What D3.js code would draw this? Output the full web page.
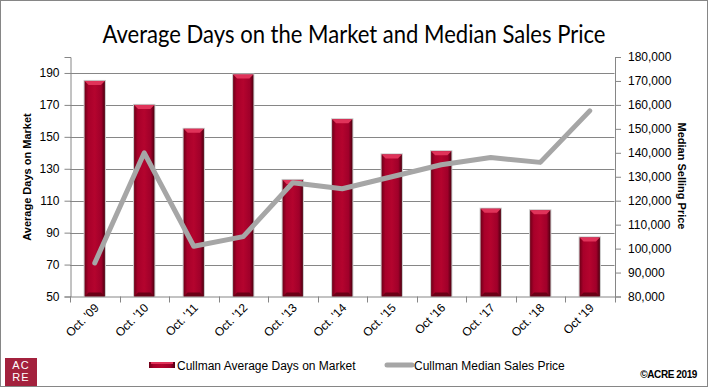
<!DOCTYPE html>
<html>
<head>
<meta charset="utf-8">
<script src="https://cdn.jsdelivr.net/npm/d3@7/dist/d3.min.js"></script>
<style>
  body { margin: 0; background: #fff; }
  svg text { font-family: "Liberation Sans", Arial, sans-serif; }
</style>
</head>
<body>
<svg id="chart" width="708" height="387"></svg>
<script>
// data
const categories = ["Oct. '09", "Oct. '10", "Oct. '11", "Oct. '12", "Oct. '13", "Oct. '14",
  "Oct. '15", "Oct '16", "Oct. '17", "Oct. '18", "Oct '19"]
const daysOnMarket = [185, 170, 155, 189, 123, 161, 139, 141, 105, 104, 87]
const medianPrice = [94000, 140000, 101000, 105000, 127500, 125000, 130000, 135000, 138000, 136000, 157500]
const leftTicks = [50, 70, 90, 110, 130, 150, 170, 190]
const rightTicks = [80000, 90000, 100000, 110000, 120000, 130000, 140000, 150000, 160000, 170000, 180000]

const svg = d3.select('#chart')
const W = 708, H = 387
const plotLeft = 70, plotRight = 614.5, plotTop = 57, plotBottom = 296.5
const grey = '#868686'

// outer frame
svg.append('rect').attr('x', 0.5).attr('y', 0.5).attr('width', W - 1).attr('height', H - 1)
  .attr('fill', '#fff').attr('stroke', grey)

let defs = svg.append('defs')
let grad = defs.append('linearGradient').attr('id', 'barGrad')
  .attr('x1', 0).attr('x2', 1).attr('y1', 0).attr('y2', 0)
grad.append('stop').attr('offset', '0%').attr('stop-color', '#6e0018')
grad.append('stop').attr('offset', '18%').attr('stop-color', '#a8002a')
grad.append('stop').attr('offset', '50%').attr('stop-color', '#b4042e')
grad.append('stop').attr('offset', '82%').attr('stop-color', '#a0002a')
grad.append('stop').attr('offset', '100%').attr('stop-color', '#4e0010')

const x = d3.scaleBand().domain(categories).range([plotLeft, plotRight]).padding(0)
const yL = d3.scaleLinear().domain([50, 200]).range([plotBottom, plotTop])
const yR = d3.scaleLinear().domain([80000, 180000]).range([plotBottom, plotTop])
const barW = x.bandwidth() * 0.41

// title
svg.append('text')
  .attr('x', W / 2).attr('y', 43)
  .attr('text-anchor', 'middle')
  .style('font-family', 'Lato, sans-serif')
  .style('font-size', '25px')
  .attr('textLength', 503).attr('lengthAdjust', 'spacingAndGlyphs')
  .text('Average Days on the Market and Median Sales Price')

// gridlines
svg.append('g')
  .selectAll('line')
  .data(leftTicks.slice(1))
  .join('line')
  .attr('x1', plotLeft).attr('x2', plotRight)
  .attr('y1', d => Math.round(yL(d)) + 0.5).attr('y2', d => Math.round(yL(d)) + 0.5)
  .attr('stroke', grey)

// bars
let bars = svg.append('g')
bars.selectAll('rect.shadow')
  .data(daysOnMarket)
  .join('rect')
  .attr('class', 'shadow')
  .attr('x', (d, i) => x(categories[i]) + (x.bandwidth() - barW) / 2 - 1)
  .attr('y', d => yL(d) - 1)
  .attr('width', barW + 2)
  .attr('height', d => plotBottom - yL(d) + 1)
  .attr('fill', '#c8c8c8')
bars.selectAll('rect.bar')
  .data(daysOnMarket)
  .join('rect')
  .attr('class', 'bar')
  .attr('x', (d, i) => x(categories[i]) + (x.bandwidth() - barW) / 2)
  .attr('y', d => yL(d))
  .attr('width', barW)
  .attr('height', d => plotBottom - yL(d))
  .attr('fill', 'url(#barGrad)')
// top bevel
bars.selectAll('path.cap')
  .data(daysOnMarket)
  .join('path')
  .attr('class', 'cap')
  .attr('d', (d, i) => {
    let x0 = x(categories[i]) + (x.bandwidth() - barW) / 2
    let y0 = yL(d)
    return `M${x0},${y0}L${x0 + barW},${y0}L${x0 + barW - 4},${y0 + 4}L${x0 + 4},${y0 + 4}Z`
  })
  .attr('fill', '#e0335a')
// bottom bevel
bars.selectAll('path.base')
  .data(daysOnMarket)
  .join('path')
  .attr('class', 'base')
  .attr('d', (d, i) => {
    let x0 = x(categories[i]) + (x.bandwidth() - barW) / 2
    return `M${x0 + 4},${plotBottom - 4}L${x0 + barW - 4},${plotBottom - 4}L${x0 + barW},${plotBottom}L${x0},${plotBottom}Z`
  })
  .attr('fill', '#6a0016')

// price line
const line = d3.line()
  .x((d, i) => x(categories[i]) + x.bandwidth() / 2)
  .y(d => yR(d))
svg.append('path')
  .datum(medianPrice)
  .attr('d', line)
  .attr('fill', 'none')
  .attr('stroke', '#a6a6a6')
  .attr('stroke-width', 5)
  .attr('stroke-linejoin', 'round')
  .attr('stroke-linecap', 'round')

// axes
let axisL = svg.append('g').attr('transform', `translate(${plotLeft + 0.5},0)`)
  .call(d3.axisLeft(yL).tickValues(leftTicks).tickSizeOuter(0).tickSize(6).tickPadding(5))
let axisR = svg.append('g').attr('transform', `translate(${plotRight + 0.5},0)`)
  .call(d3.axisRight(yR).tickValues(rightTicks).tickSizeOuter(0).tickSize(6).tickPadding(7)
    .tickFormat(d3.format(',')))
for (let a of [axisL, axisR]) {
  a.selectAll('path, line').attr('stroke', grey)
  a.selectAll('text').style('font-size', '12px').attr('fill', '#000')
    .style('font-family', '"Liberation Sans", Arial, sans-serif')
}

// x axis
let xa = svg.append('g')
xa.append('line').attr('x1', plotLeft).attr('x2', plotRight + 1)
  .attr('y1', plotBottom + 0.5).attr('y2', plotBottom + 0.5).attr('stroke', grey)
xa.selectAll('line.tick')
  .data(categories.concat(['end']))
  .join('line')
  .attr('class', 'tick')
  .attr('x1', (d, i) => Math.round(i < categories.length ? x(d) : plotRight) + 0.5)
  .attr('x2', (d, i) => Math.round(i < categories.length ? x(d) : plotRight) + 0.5)
  .attr('y1', plotBottom).attr('y2', plotBottom + 6)
  .attr('stroke', grey)
xa.selectAll('text')
  .data(categories)
  .join('text')
  .attr('transform', d => `translate(${x(d) + x.bandwidth() / 2 + 5},${plotBottom + 12}) rotate(-45)`)
  .attr('text-anchor', 'end')
  .style('font-size', '12px')
  .text(d => d)

// axis titles
svg.append('text')
  .attr('transform', `translate(31,177) rotate(-90)`)
  .attr('text-anchor', 'middle')
  .style('font-size', '11px').style('font-weight', 'bold')
  .text('Average Days on Market')
svg.append('text')
  .attr('transform', `translate(678,176) rotate(90)`)
  .attr('text-anchor', 'middle')
  .style('font-size', '11px').style('font-weight', 'bold')
  .text('Median Selling Price')

// legend
svg.append('rect').attr('x', 149).attr('y', 362).attr('width', 26).attr('height', 6)
  .attr('fill', 'url(#barGrad)')
svg.append('rect').attr('x', 151).attr('y', 362).attr('width', 22).attr('height', 2)
  .attr('fill', '#e0335a')
svg.append('text').attr('x', 177).attr('y', 370).style('font-size', '12px')
  .text('Cullman Average Days on Market')
svg.append('line').attr('x1', 387).attr('x2', 412).attr('y1', 365).attr('y2', 365)
  .attr('stroke', '#a6a6a6').attr('stroke-width', 5).attr('stroke-linecap', 'round')
svg.append('text').attr('x', 414).attr('y', 370).style('font-size', '12px')
  .text('Cullman Median Sales Price')

// copyright
svg.append('text').attr('x', 697).attr('y', 378)
  .attr('text-anchor', 'end')
  .style('font-size', '10px').style('font-weight', 'bold').style('letter-spacing', '-0.4px')
  .text('©ACRE 2019')

// logo
let logo = svg.append('g')
logo.append('rect').attr('x', 5).attr('y', 358).attr('width', 32).attr('height', 28).attr('fill', '#a3213d')
logo.append('text').attr('x', 21).attr('y', 369).attr('text-anchor', 'middle')
  .attr('fill', '#fff').style('font-size', '11px').style('letter-spacing', '1px').text('AC')
logo.append('text').attr('x', 21).attr('y', 381).attr('text-anchor', 'middle')
  .attr('fill', '#fff').style('font-size', '11px').style('letter-spacing', '1px').text('RE')
</script>
</body>
</html>
